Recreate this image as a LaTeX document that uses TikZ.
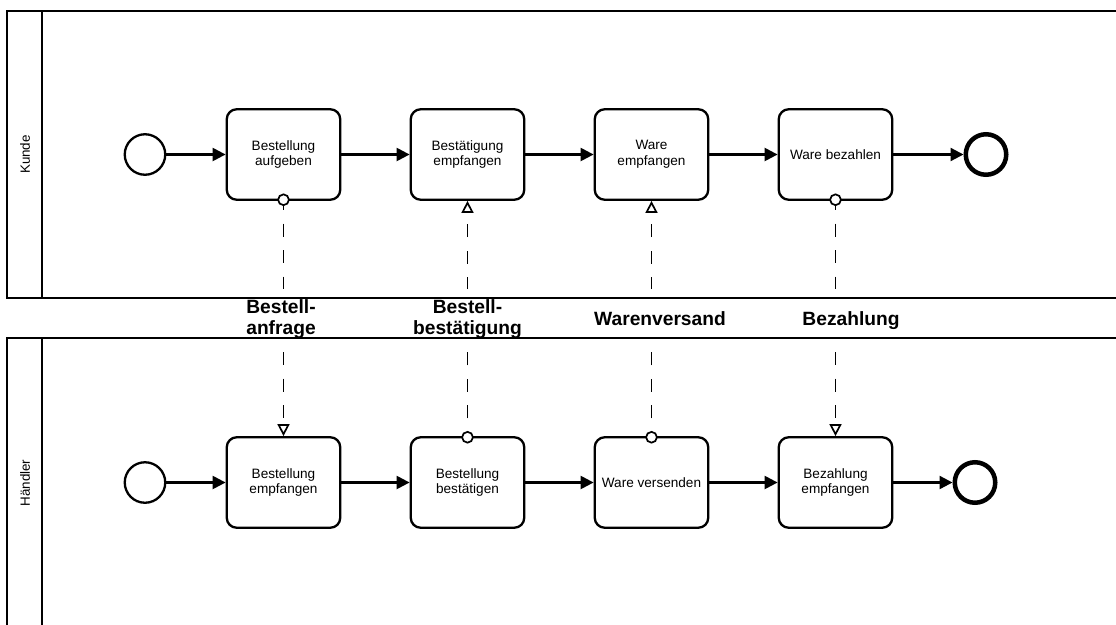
\documentclass[tikz,border=0pt]{standalone}
\usepackage{fontspec}
\setmainfont{Liberation Sans}
\usetikzlibrary{arrows.meta}

\tikzset{
  x=1pt, y=-1pt,
  pool/.style={line width=2.3pt, draw=black, fill=white},
  lanelabel/.style={rotate=90, inner sep=0pt, font=\fontsize{13.4}{15.5}\selectfont},
  task/.style={draw, line width=2.3pt, rounded corners=10pt, fill=white,
    minimum width=113.5pt, minimum height=90.5pt, inner sep=0pt,
    align=center, font=\fontsize{13.6}{15.6}\selectfont},
  startev/.style={circle, draw, line width=2.3pt, fill=white, minimum size=40.5pt, inner sep=0pt},
  endev/.style={circle, draw, line width=4.5pt, fill=white, minimum size=40.5pt, inner sep=0pt},
  seqflow/.style={line width=2.3pt, -{Triangle[length=13pt,width=13pt]}},
  msgflow/.style={line width=1.7pt, dash pattern=on 13pt off 13.5pt},
  msgsrc/.style={msgflow, {Circle[fill=white,length=12.5pt,width=12.5pt]}-, shorten <=-7.4pt},
  msgdst/.style={msgflow, -{Triangle[fill=white,length=12pt,width=12pt]}},
  msglabel/.style={inner sep=0pt, align=center,
    font=\bfseries\fontsize{19.2}{20.5}\selectfont}
}

\begin{document}
\begin{tikzpicture}
\useasboundingbox (0,0) rectangle (1116,624);
\clip (0,0) rectangle (1116,624);

% pools with their header strips
\draw[pool] (7,11) rectangle (1130,298);
\draw[pool] (42,11) -- (42,298);
\draw[pool] (7,338) rectangle (1130,628);
\draw[pool] (42,338) -- (42,628);
\node[lanelabel] (kunde) at (25,154.5) {Kunde};
\node[lanelabel] (haendler) at (25,483) {Händler};

% customer process
\node[startev] (s1) at (145,154.5) {};
\node[task] (t1) at (283.5,154.5) {Bestellung\\aufgeben};
\node[task] (t2) at (467.5,154.5) {Bestätigung\\empfangen};
\node[task] (t3) at (651.5,154.5) {Ware\\empfangen};
\node[task] (t4) at (835.5,154.5) {Ware bezahlen};
\node[endev] (e1) at (986,154.5) {};

\draw[seqflow] (s1) -- (t1);
\draw[seqflow] (t1) -- (t2);
\draw[seqflow] (t2) -- (t3);
\draw[seqflow] (t3) -- (t4);
\draw[seqflow] (t4) -- (e1);

% merchant process
\node[startev] (s2) at (145,482.5) {};
\node[task] (b1) at (283.5,482.5) {Bestellung\\empfangen};
\node[task] (b2) at (467.5,482.5) {Bestellung\\bestätigen};
\node[task] (b3) at (651.5,482.5) {Ware versenden};
\node[task] (b4) at (835.5,482.5) {Bezahlung\\empfangen};
\node[endev] (e2) at (975,482.5) {};

\draw[seqflow] (s2) -- (b1);
\draw[seqflow] (b1) -- (b2);
\draw[seqflow] (b2) -- (b3);
\draw[seqflow] (b3) -- (b4);
\draw[seqflow] (b4) -- (e2);

% message flows, interrupted by their labels
\coordinate (m1a) at (283.5,289); \coordinate (m1b) at (283.5,348);
\coordinate (m2a) at (467.5,289); \coordinate (m2b) at (467.5,348);
\coordinate (m3a) at (651.5,289); \coordinate (m3b) at (651.5,348);
\coordinate (m4a) at (835.5,289); \coordinate (m4b) at (835.5,348);

\draw[msgsrc, dash phase=8pt] (t1.south) -- (m1a);
\draw[msgdst, dash phase=22.5pt] (m1b) -- (b1.north);
\draw[msgsrc, dash phase=13pt] (b2.north) -- (m2b);
\draw[msgdst, dash phase=1pt] (m2a) -- (t2.south);
\draw[msgsrc, dash phase=13pt] (b3.north) -- (m3b);
\draw[msgdst, dash phase=1pt] (m3a) -- (t3.south);
\draw[msgsrc, dash phase=8pt] (t4.south) -- (m4a);
\draw[msgdst, dash phase=22.5pt] (m4b) -- (b4.north);

\node[msglabel] (l1) at (281,319) {Bestell-\\anfrage};
\node[msglabel] (l2) at (467.5,319) {Bestell-\\bestätigung};
\node[msglabel] (l3) at (660,319) {Warenversand};
\node[msglabel] (l4) at (851,321) {Bezahlung};
\end{tikzpicture}
\end{document}
